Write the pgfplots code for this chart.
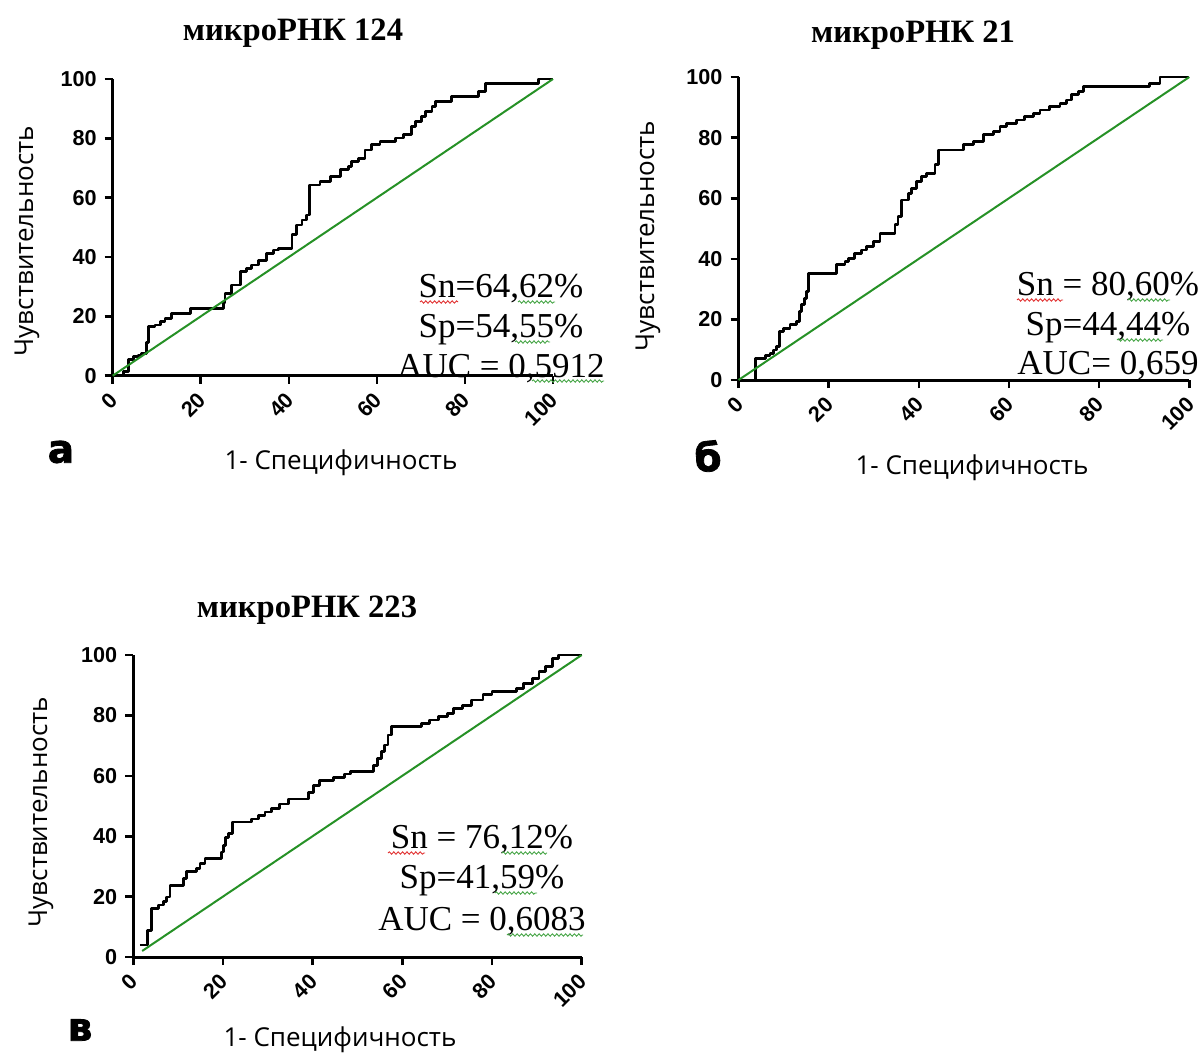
\documentclass[border=0pt]{standalone}
\usepackage{fontspec}
\setmainfont{Liberation Serif}
\newfontfamily\tickfont{Liberation Sans}
\newfontfamily\labfont{Open Sans}
\newfontfamily\letfont{DejaVu Sans}[BoldFeatures={FakeBold=2}]
\usepackage{pgfplots}
\pgfplotsset{compat=1.18}
\usetikzlibrary{decorations.pathmorphing}
\definecolor{rocgreen}{RGB}{38,145,38}
\definecolor{sqred}{RGB}{225,50,50}
\definecolor{sqgreen}{RGB}{70,165,70}

\pgfplotsset{rocstyle/.style={
  scale only axis, anchor=south west,
  xmin=0, xmax=100, ymin=0, ymax=100,
  axis lines=left, axis line style={-, line width=1.5pt},
  xtick={0,20,...,100}, ytick={0,20,...,100},
  tick align=outside, major tick length=4pt,
  tick style={line width=1.3pt, black},
  /pgf/number format/assume math mode=true,
  ticklabel style={font=\tickfont\bfseries\fontsize{10.8}{12}\selectfont},
  xticklabel style={xshift=3pt, yshift=-4pt, rotate=45, anchor=east},
  yticklabel style={xshift=-0.5pt},
  clip=false,
}}
\tikzset{
  ann/.style={anchor=base, inner sep=0pt, font=\fontsize{17.5}{20}\selectfont},
  ttl/.style={anchor=center, inner sep=0pt, font=\bfseries\fontsize{16.3}{19}\selectfont},
  lab/.style={anchor=center, inner sep=0pt, font=\labfont\fontsize{13}{15}\selectfont},
  let/.style={anchor=center, inner sep=0pt, font=\letfont\bfseries\fontsize{19.5}{22}\selectfont},
  sq/.style={line width=0.45pt, decorate, decoration={snake, amplitude=0.6pt, segment length=2.2pt}},
}

\begin{document}
\begin{tikzpicture}
\useasboundingbox (0,0) rectangle (602pt,-528.5pt);

% ---------- panel a ----------
\begin{axis}[rocstyle, at={(56.35pt,-187.85pt)}, width=220.15pt, height=148.35pt]
\addplot[black, line width=1.4pt, const plot, line join=round] coordinates {
(0,0)(2.4,1.5)(3.5,5.5)(4.7,6.4)(5.8,7)(6.6,7.6)(7.7,11.3)(8.1,16.5)(9.6,17.1)(10.8,18.2)(11.9,19.4)(13.4,21)(17.6,22.7)(25.1,24.5)(25.5,27.8)(27,30.6)(29,35.1)(30.4,36.2)(31.6,37.3)(33.1,38.8)(35,41.3)(36.5,42.4)(37.6,43)(40.7,47.5)(41.8,50.8)(43,52.5)(44,54.2)(44.7,64.3)(47.1,65.5)(49.4,67.1)(51.7,69.4)(53.6,70.5)(54.3,72.2)(55.8,73.3)(57.3,76.1)(58.8,77.8)(60.7,78.9)(64.2,80.1)(66,81.2)(67.9,84)(68.7,85.7)(70.2,87.4)(71,89)(72.5,90.7)(73.4,92.4)(77,94.2)(83.1,95.8)(84.6,98.6)(96.7,100)(100,100)};
\addplot[rocgreen, line width=1pt] coordinates {(0,0)(100,100)};
\end{axis}

% ---------- panel b ----------
\begin{axis}[rocstyle, at={(369.25pt,-190pt)}, width=225.4pt, height=151.5pt]
\addplot[black, line width=1.4pt, const plot, line join=round] coordinates {
(0,0)(3.7,7.2)(5.9,8)(7,8.8)(7.7,9.9)(8.5,11)(9.05,16)(9.9,17.1)(11.4,18.2)(12.9,19.3)(13.6,22.6)(14,24.8)(14.7,26.9)(15.1,29.1)(15.5,35.2)(21.8,38)(23.6,39.1)(24.4,40.2)(25.8,41.8)(27.3,42.9)(28.4,44)(29.9,45.7)(31.4,48.4)(34.7,51.2)(35.4,53.9)(36.2,59.4)(37.7,61.6)(38.4,63.3)(39.5,65.5)(40.6,67.1)(41.7,68.2)(43.6,71)(44.3,75.9)(49.9,77.6)(52.1,78.6)(54.3,80.9)(56.5,81.9)(58,83.6)(59.5,84.7)(61.7,85.8)(63.5,86.9)(65.4,88)(66.9,89.1)(69,90.2)(71.3,91.3)(72.7,92.4)(73.9,94.1)(75.4,95.1)(76.5,96.8)(91.2,97.9)(93.5,100)(100,100)};
\addplot[rocgreen, line width=1pt] coordinates {(0,0)(100,100)};
\end{axis}

% ---------- panel c ----------
\begin{axis}[rocstyle, at={(66.6pt,-478.5pt)}, width=224.25pt, height=151pt]
\addplot[black, line width=1.4pt, const plot, line join=round] coordinates {
(1.5,4)(3.2,8.9)(4.1,16.1)(5.6,17.2)(6.7,18.5)(7.5,19.9)(8.2,23.8)(11.2,26)(11.9,28.2)(14.2,29.3)(14.9,30.9)(16,32.6)(19.7,34.8)(20.1,37)(20.5,39.7)(21.2,41)(22.2,44.7)(26.4,45.7)(27.9,46.9)(29.4,48)(30.9,49.1)(32.7,50.7)(34.6,52.3)(39.1,54.6)(40.2,56.8)(41.5,58.4)(44.6,59.5)(47.2,60.6)(48.5,61.5)(53.5,63.5)(54.5,65.8)(55.3,68)(56,70.2)(56.8,73.5)(57.6,76.3)(64.3,77.4)(66,78.5)(68,79.6)(70,80.7)(71.5,82.3)(73.5,83.4)(75.5,85.1)(78,86.8)(80,87.9)(85.5,89)(87,90.6)(89,92.3)(90.5,94.5)(92,96.2)(93.5,98.9)(94.8,100)(100,100)};
\addplot[rocgreen, line width=1pt] coordinates {(2,2)(100,100)};
\end{axis}

% ---------- titles ----------
\node[ttl] at (146.5pt,-16.5pt) {микроРНК 124};
\node[ttl] at (456.5pt,-17.5pt) {микроРНК 21};
\node[ttl] at (153.5pt,-305pt) {микроРНК 223};

% ---------- axis labels ----------
\node[lab, rotate=90] at (13.5pt,-120.5pt) {Чувствительность};
\node[lab, rotate=90] at (324pt,-118pt) {Чувствительность};
\node[lab, rotate=90] at (20.5pt,-406pt) {Чувствительность};
\node[lab] at (170.5pt,-231.5pt) {1- Специфичность};
\node[lab] at (486pt,-234pt) {1- Специфичность};
\node[lab] at (170pt,-520pt) {1- Специфичность};

% ---------- panel letters ----------
\node[let] at (30.5pt,-226pt) {а};
\node[let] at (354pt,-228pt) {б};
\node[let] at (40pt,-515pt) {в};

% ---------- annotations ----------
\node[ann] at (250.5pt,-148.5pt) {Sn=64,62\%};
\node[ann] at (250.5pt,-168.5pt) {Sp=54,55\%};
\node[ann] at (250.5pt,-188.5pt) {AUC = 0,5912};
\node[ann] at (554pt,-147.5pt) {Sn = 80,60\%};
\node[ann] at (554pt,-167.5pt) {Sp=44,44\%};
\node[ann] at (554pt,-187pt) {AUC= 0,659};
\node[ann] at (241pt,-424pt) {Sn = 76,12\%};
\node[ann] at (241pt,-444pt) {Sp=41,59\%};
\node[ann] at (241pt,-465pt) {AUC = 0,6083};

% ---------- spell-check squiggles ----------
\draw[sq, sqred] (210pt,-151pt) -- (229pt,-151pt);
\draw[sq, sqgreen] (259pt,-151pt) -- (277.5pt,-151pt);
\draw[sq, sqgreen] (257.5pt,-171pt) -- (275pt,-171pt);
\draw[sq, sqgreen] (266pt,-190.5pt) -- (302pt,-190.5pt);
\draw[sq, sqred] (508.5pt,-150pt) -- (531.5pt,-150pt);
\draw[sq, sqgreen] (564pt,-150pt) -- (585pt,-150pt);
\draw[sq, sqgreen] (558.5pt,-170pt) -- (581.5pt,-170pt);
\draw[sq, sqred] (194pt,-426.5pt) -- (212.5pt,-426.5pt);
\draw[sq, sqgreen] (251pt,-426.5pt) -- (273.5pt,-426.5pt);
\draw[sq, sqgreen] (247.5pt,-446.5pt) -- (268.5pt,-446.5pt);
\draw[sq, sqgreen] (253.5pt,-467.5pt) -- (291.5pt,-467.5pt);
\end{tikzpicture}
\end{document}
